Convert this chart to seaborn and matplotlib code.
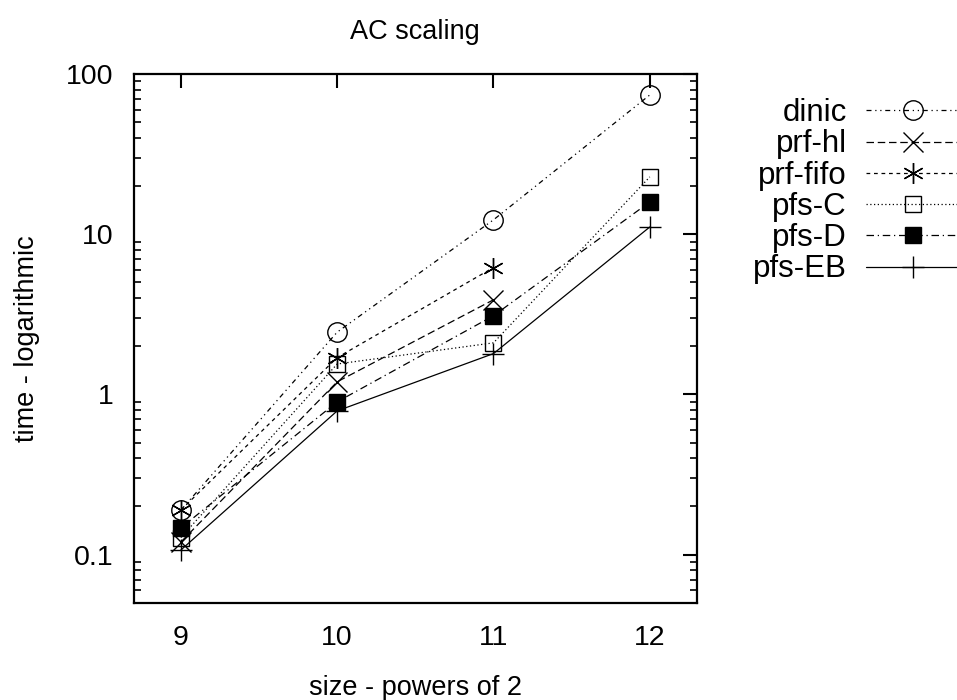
import numpy as np
import pandas as pd
import matplotlib
matplotlib.use("Agg")
import matplotlib.pyplot as plt
from matplotlib.ticker import FixedLocator, LogLocator, NullFormatter, FuncFormatter
import seaborn as sns

# ---- data ----
sizes = [9, 10, 11, 12]
dinic = [0.19, 2.45, 12.3, 74.0]
prf_hl = [0.12, 1.2, 3.9]
prf_fifo = [0.19, 1.7, 6.2]
pfs_C = [0.128, 1.55, 2.1, 22.8]
pfs_D = [0.147, 0.90, 3.1, 15.9]
pfs_EB = [0.107, 0.79, 1.8, 11.1]
labels = ["dinic", "prf-hl", "prf-fifo", "pfs-C", "pfs-D", "pfs-EB"]
series = [dinic, prf_hl, prf_fifo, pfs_C, pfs_D, pfs_EB]

sns.set_theme(style="white")
plt.rcParams['font.family'] = ['Liberation Sans', 'DejaVu Sans']
plt.rcParams['text.color'] = 'black'
plt.rcParams['axes.labelcolor'] = 'black'
plt.rcParams['xtick.color'] = 'black'
plt.rcParams['ytick.color'] = 'black'

FS = 19.5
TFS = 20.5
LFS = 22.5

styles = [
    dict(marker='o', mfc='none', ms=14, ls=(0, (4, 3, 1, 3, 1, 3))),
    dict(marker='x', mfc='none', ms=14, ls=(0, (6, 3))),
    dict(marker=(6, 2, 0), mfc='none', ms=15, ls=(0, (3, 3))),
    dict(marker='s', mfc='none', ms=12, ls=(0, (1, 2))),
    dict(marker='s', mfc='black', ms=12, ls=(0, (6, 3, 1, 3))),
    dict(marker='+', mfc='none', ms=16, ls='-'),
]

fig = plt.figure(figsize=(9.57, 7.0), dpi=100)
ax = fig.add_axes([0.140, 0.1386, 0.588, 0.7557])

for lab, ys, st in zip(labels, series, styles):
    xs = sizes[:len(ys)]
    sns.lineplot(x=xs, y=ys, ax=ax, color='black', lw=0.9, marker=st['marker'],
                 mfc=st['mfc'], mec='black', mew=1.0, ms=st['ms'],
                 linestyle=st['ls'], label=lab, legend=False)

ax.set_yscale('log')
ax.set_xlim(8.7, 12.3)
ax.set_ylim(0.05, 100)
ax.xaxis.set_major_locator(FixedLocator(sizes))
ax.yaxis.set_major_locator(FixedLocator([0.1, 1, 10, 100]))
ax.yaxis.set_minor_locator(LogLocator(base=10, subs=np.arange(2, 10)))
ax.yaxis.set_major_formatter(FuncFormatter(lambda v, p: f"{v:g}"))
ax.yaxis.set_minor_formatter(NullFormatter())

for s in ax.spines.values():
    s.set_visible(True)
    s.set_color('black')
    s.set_linewidth(1.6)
ax.tick_params(which='major', direction='in', length=10, width=1.5, top=True, right=True,
               labelsize=TFS, pad=14.5, colors='black')
ax.tick_params(axis='x', which='major', pad=15.5)
ax.tick_params(which='minor', direction='in', length=5, width=1.2, left=True, right=True)
ax.tick_params(axis='x', which='minor', bottom=False, top=False)

ax.set_title("AC scaling", fontsize=FS, pad=25)
ax.set_xlabel("size - powers of 2", fontsize=FS, labelpad=17.5)
ax.set_ylabel("time - logarithmic", fontsize=FS, labelpad=19)

handles, labs = ax.get_legend_handles_labels()
leg = fig.legend(handles, labs, loc='upper right', bbox_to_anchor=(1.019, 0.882),
                 frameon=False, markerfirst=False, fontsize=LFS, handlelength=3.0,
                 labelspacing=0.04, handletextpad=0.6, borderpad=0)

fig.savefig("out.png", dpi=100)
